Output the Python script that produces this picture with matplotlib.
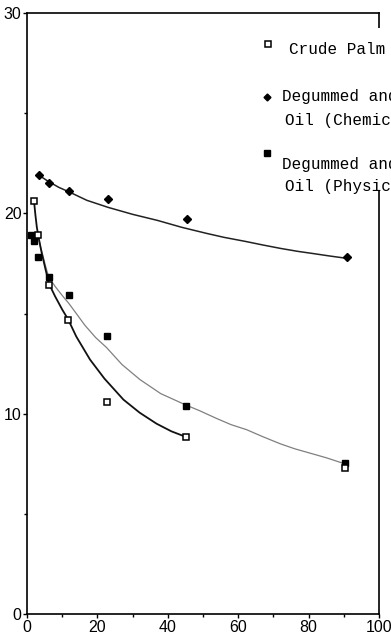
import matplotlib
matplotlib.use("Agg")
from matplotlib import pyplot as plt
from matplotlib.patches import Rectangle
from matplotlib.lines import Line2D

# measured points
crude_x = [2.1, 3.2, 6.3, 11.7, 22.7, 45.1, 90.2]
crude_y = [20.6, 18.9, 16.4, 14.7, 10.6, 8.85, 7.3]

chem_x = [3.4, 6.3, 12.0, 22.9, 45.5, 90.9]
chem_y = [21.9, 21.5, 21.1, 20.7, 19.7, 17.8]

phys_x = [1.2, 2.0, 3.2, 6.3, 11.9, 22.7, 45.1, 90.2]
phys_y = [18.9, 18.6, 17.8, 16.8, 15.9, 13.9, 10.4, 7.55]

# fitted curves
crude_cx = [2.0, 2.4, 2.8, 3.4, 4.2, 5.0, 6.2, 8.0, 10.0, 11.7, 14.0, 17.9,
            22.0, 27.4, 32.0, 36.8, 41.0, 45.0]
crude_cy = [20.6, 19.9, 19.3, 18.7, 18.0, 17.4, 16.5, 15.85, 15.2, 14.7, 13.85, 12.7,
            11.75, 10.7, 10.05, 9.5, 9.12, 8.85]

chem_cx = [3.4, 6.0, 9.0, 12.2, 17.0, 23.0, 30.0, 37.0, 44.0, 51.0, 56.0, 62.0,
           67.0, 72.0, 77.0, 81.0, 86.0, 91.0]
chem_cy = [21.9, 21.6, 21.3, 21.05, 20.65, 20.3, 19.95, 19.65, 19.3, 19.0, 18.8, 18.6,
           18.42, 18.25, 18.1, 18.0, 17.87, 17.75]

phys_cx = [3.2, 3.8, 4.5, 5.3, 6.2, 8.0, 10.0, 11.9, 14.0, 16.5, 19.5, 22.6, 27.0,
           32.1, 38.0, 44.9, 49.0, 54.0, 58.0, 62.4, 67.0, 71.9, 76.0, 80.0, 85.0, 90.2]
phys_cy = [18.9, 18.35, 17.9, 17.35, 16.8, 16.35, 15.9, 15.5, 15.0, 14.4, 13.8, 13.3, 12.45,
           11.7, 11.0, 10.45, 10.15, 9.75, 9.45, 9.2, 8.85, 8.5, 8.25, 8.05, 7.8, 7.5]

legend_lines = [["Crude Palm Oil"],
                ["Degummed and Bleached Palm", "Oil (Chemical Refining)"],
                ["Degummed and Bleached Palm", "Oil (Physical Refining)"]]

W, H = 391, 638
fig = plt.figure(figsize=(W / 100, H / 100), dpi=100)
ax = fig.add_axes([27 / W, 24 / H, 352 / W, 601 / H])

ax.plot(phys_cx, phys_cy, color='#808080', lw=0.9)
ax.plot(crude_cx, crude_cy, color='#111111', lw=1.3)
ax.plot(chem_cx, chem_cy, color='#222222', lw=1.1)

ax.plot(chem_x, chem_y, 'D', color='black', ms=4, zorder=4)
ax.plot(phys_x, phys_y, 's', color='black', ms=4, zorder=4)
ax.plot(crude_x, crude_y, 's', mfc='white', mec='black', mew=1.1, ms=4, zorder=5)

ax.set_xlim(0, 100)
ax.set_ylim(0, 30)
ax.set_xticks([0, 20, 40, 60, 80, 100])
ax.set_xticks([10, 30, 50, 70, 90], minor=True)
ax.set_yticks([0, 10, 20, 30])
ax.set_yticks([5, 15, 25], minor=True)
for lab in ax.get_xticklabels() + ax.get_yticklabels():
    lab.set_family('Liberation Sans')
    lab.set_fontsize(11.5)
ax.tick_params(which='major', length=3, width=1, pad=1)
ax.tick_params(which='minor', length=2, width=1)
for s in ax.spines.values():
    s.set_linewidth(1.2)

# white area of the legend covering the right frame
def fx(px):
    return px / W

def fy(py):
    return 1 - py / H

ax.add_patch(Rectangle((fx(258), fy(190)), fx(140), 162 / H, transform=fig.transFigure,
                       facecolor='white', edgecolor='none', clip_on=False, zorder=10))

mono = 'Liberation Mono'
ax.add_line(Line2D([fx(268)], [fy(44)], marker='s', ms=4, mfc='white', mec='black', mew=1.1,
                   transform=fig.transFigure, clip_on=False, zorder=11))
ax.text(fx(289), fy(50), legend_lines[0][0], transform=fig.transFigure, family=mono,
        fontsize=11.5, va='center', ha='left', zorder=11, clip_on=False)

ax.add_line(Line2D([fx(267)], [fy(97)], marker='D', ms=3.5, color='black',
                   transform=fig.transFigure, clip_on=False, zorder=11))
ax.text(fx(282), fy(97), legend_lines[1][0], transform=fig.transFigure, family=mono,
        fontsize=11.5, va='center', ha='left', zorder=11, clip_on=False)
ax.text(fx(285), fy(120), legend_lines[1][1], transform=fig.transFigure, family=mono,
        fontsize=11.5, va='center', ha='left', zorder=11, clip_on=False)

ax.add_line(Line2D([fx(267)], [fy(153)], marker='s', ms=4, color='black',
                   transform=fig.transFigure, clip_on=False, zorder=11))
ax.text(fx(282), fy(164), legend_lines[2][0], transform=fig.transFigure, family=mono,
        fontsize=11.5, va='center', ha='left', zorder=11, clip_on=False)
ax.text(fx(285), fy(187), legend_lines[2][1], transform=fig.transFigure, family=mono,
        fontsize=11.5, va='center', ha='left', zorder=11, clip_on=False)

fig.savefig('out.png', dpi=100)
